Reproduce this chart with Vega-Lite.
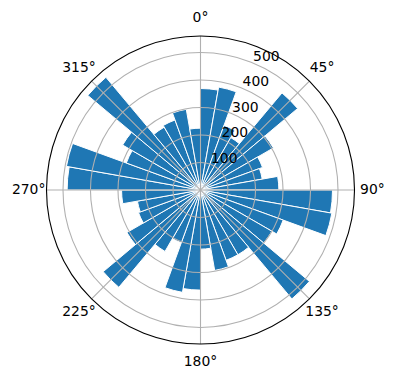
{
  "$schema": "https://vega.github.io/schema/vega-lite/v6.json",
  "width": 391,
  "height": 380,
  "autosize": {"type": "none"},
  "padding": {"left": 5, "top": 0, "right": 0, "bottom": 0},
  "background": "white",
  "config": {"view": {"stroke": null}, "font": "DejaVu Sans"},
  "datasets": {
    "bars": [
      {"t0": 0, "t1": 10, "r": 369}, {"t0": 10, "t1": 20, "r": 380}, {"t0": 20, "t1": 30, "r": 250},
      {"t0": 30, "t1": 40, "r": 220}, {"t0": 40, "t1": 50, "r": 461}, {"t0": 50, "t1": 60, "r": 306},
      {"t0": 60, "t1": 70, "r": 240}, {"t0": 70, "t1": 80, "r": 228}, {"t0": 80, "t1": 90, "r": 285},
      {"t0": 90, "t1": 100, "r": 480}, {"t0": 100, "t1": 110, "r": 485}, {"t0": 110, "t1": 120, "r": 320},
      {"t0": 120, "t1": 130, "r": 300}, {"t0": 130, "t1": 140, "r": 517}, {"t0": 140, "t1": 150, "r": 272},
      {"t0": 150, "t1": 160, "r": 272}, {"t0": 160, "t1": 170, "r": 297}, {"t0": 170, "t1": 180, "r": 215},
      {"t0": 180, "t1": 190, "r": 364}, {"t0": 190, "t1": 200, "r": 378}, {"t0": 200, "t1": 210, "r": 204},
      {"t0": 210, "t1": 220, "r": 258}, {"t0": 220, "t1": 230, "r": 462}, {"t0": 230, "t1": 240, "r": 309},
      {"t0": 240, "t1": 250, "r": 240}, {"t0": 250, "t1": 260, "r": 233}, {"t0": 260, "t1": 270, "r": 287},
      {"t0": 270, "t1": 280, "r": 485}, {"t0": 280, "t1": 290, "r": 495}, {"t0": 290, "t1": 300, "r": 287},
      {"t0": 300, "t1": 310, "r": 327}, {"t0": 310, "t1": 320, "r": 535}, {"t0": 320, "t1": 330, "r": 264},
      {"t0": 330, "t1": 340, "r": 271}, {"t0": 340, "t1": 350, "r": 298}, {"t0": 350, "t1": 360, "r": 225}
    ],
    "rings": [{"v": 100}, {"v": 200}, {"v": 300}, {"v": 400}, {"v": 500}],
    "outer": [{"v": 560}],
    "spokes": [
      {"x1": 0, "y1": 560, "x2": 0, "y2": -560},
      {"x1": -560, "y1": 0, "x2": 560, "y2": 0},
      {"x1": -396, "y1": -396, "x2": 396, "y2": 396},
      {"x1": -396, "y1": 396, "x2": 396, "y2": -396}
    ],
    "angles": [
      {"a": 0, "r": 625, "lab": "0°"}, {"a": 45, "r": 625, "lab": "45°"}, {"a": 90, "r": 625, "lab": "90°"}, {"a": 135, "r": 625, "lab": "135°"},
      {"a": 180, "r": 625, "lab": "180°"}, {"a": 225, "r": 625, "lab": "225°"}, {"a": 270, "r": 625, "lab": "270°"}, {"a": 315, "r": 625, "lab": "315°"}
    ],
    "rlabels": [
      {"a": 22.5, "v": 100}, {"a": 22.5, "v": 200}, {"a": 22.5, "v": 300}, {"a": 22.5, "v": 400}, {"a": 22.5, "v": 500}
    ]
  },
  "encoding": {},
  "layer": [
    {
      "data": {"name": "bars"},
      "mark": {"type": "arc", "fill": "#1f77b4", "stroke": "white", "strokeWidth": 1},
      "encoding": {
        "theta": {"field": "t0", "type": "quantitative", "stack": null, "scale": {"domain": [0, 360], "range": [0, 6.283185307]}},
        "theta2": {"field": "t1"},
        "radius": {"field": "r", "type": "quantitative", "stack": null, "scale": {"type": "linear", "domain": [0, 560], "range": [0, 154], "zero": true, "nice": false}}
      }
    },
    {
      "data": {"name": "rings"},
      "mark": {"type": "arc", "theta": 0, "theta2": 6.2832, "fillOpacity": 0, "stroke": "#b0b0b0", "strokeWidth": 1.1},
      "encoding": {
        "radius": {"field": "v", "type": "quantitative", "stack": null}
      }
    },
    {
      "data": {"name": "spokes"},
      "mark": {"type": "rule", "stroke": "#b0b0b0", "strokeWidth": 1.1},
      "encoding": {
        "x": {"field": "x1", "type": "quantitative", "axis": null, "scale": {"domain": [-560, 560], "range": [41.5, 349.5], "nice": false, "zero": false}},
        "y": {"field": "y1", "type": "quantitative", "axis": null, "scale": {"domain": [-560, 560], "range": [344, 36], "nice": false, "zero": false}},
        "x2": {"field": "x2"},
        "y2": {"field": "y2"}
      }
    },
    {
      "data": {"name": "outer"},
      "mark": {"type": "arc", "theta": 0, "theta2": 6.2832, "fillOpacity": 0, "stroke": "black", "strokeWidth": 1.1},
      "encoding": {
        "radius": {"field": "v", "type": "quantitative", "stack": null}
      }
    },
    {
      "data": {"name": "angles"},
      "mark": {"type": "text", "fontSize": 13.9, "font": "DejaVu Sans", "align": "center", "baseline": "middle", "color": "black"},
      "encoding": {
        "theta": {"field": "a", "type": "quantitative", "stack": null},
        "radius": {"field": "r", "type": "quantitative", "stack": null},
        "text": {"field": "lab"}
      }
    },
    {
      "data": {"name": "rlabels"},
      "mark": {"type": "text", "fontSize": 13.9, "font": "DejaVu Sans", "align": "left", "baseline": "bottom", "color": "black", "dy": 1},
      "encoding": {
        "theta": {"field": "a", "type": "quantitative", "stack": null},
        "radius": {"field": "v", "type": "quantitative", "stack": null},
        "text": {"field": "v", "type": "quantitative"}
      }
    }
  ]
}
